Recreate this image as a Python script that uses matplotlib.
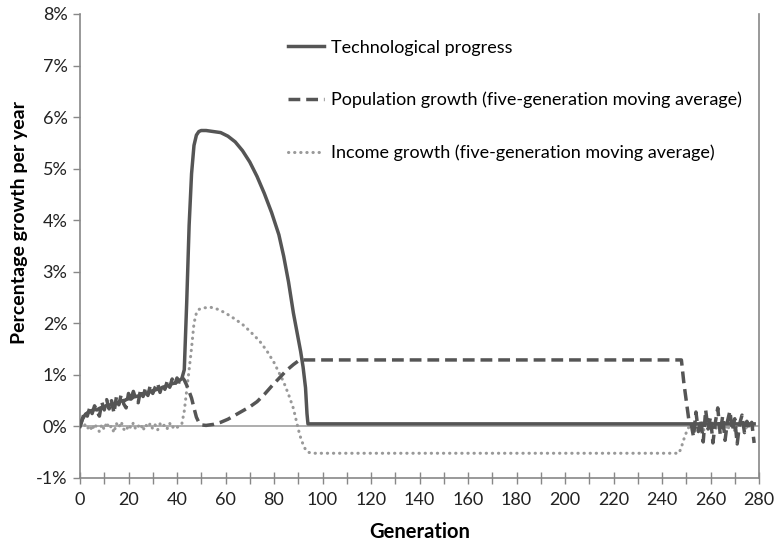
import numpy as np
import matplotlib.pyplot as plt
from matplotlib.ticker import MultipleLocator, FuncFormatter

plt.rcParams['font.family'] = ['Lato', 'DejaVu Sans']

# early phase, generations 0..42 (one value per generation)
early_gen = list(range(0, 43))
tech_early = [0.0, 0.14, 0.22, 0.26, 0.29, 0.31, 0.33, 0.32, 0.35, 0.37, 0.38, 0.41, 0.4, 0.44, 0.43, 0.47, 0.46,
              0.5, 0.49, 0.52, 0.54, 0.53, 0.57, 0.58, 0.59, 0.62, 0.61, 0.64, 0.66, 0.67, 0.68, 0.71, 0.72,
              0.73, 0.76, 0.76, 0.79, 0.8, 0.83, 0.84, 0.86, 0.89, 0.93]
pop_early = [0.0, 0.15, 0.3, 0.2, 0.36, 0.25, 0.4, 0.3, 0.2, 0.47, 0.32, 0.52, 0.34, 0.5, 0.26, 0.57, 0.42,
             0.62, 0.44, 0.36, 0.64, 0.5, 0.68, 0.53, 0.46, 0.72, 0.58, 0.74, 0.6, 0.8, 0.64, 0.76, 0.84,
             0.66, 0.82, 0.72, 0.88, 0.76, 0.92, 0.8, 0.94, 0.86, 0.96]
inc_early = [0.0, -0.02, 0.03, -0.05, 0.02, -0.08, 0.05, -0.03, -0.1, 0.04, -0.06, 0.08, -0.04, 0.01, -0.12,
             0.06, -0.02, 0.09, -0.05, -0.09, 0.03, -0.03, 0.07, -0.06, 0.0, 0.05, -0.08, 0.04, -0.02, 0.06,
             -0.05, 0.03, -0.07, 0.05, -0.01, 0.04, -0.04, 0.06, -0.03, 0.02, -0.02, 0.01, 0.05]

# take-off and modern phase
tech_gen = [43, 44, 45, 46, 47, 48, 49, 50, 52, 55, 58, 61, 64, 67, 70, 73, 76, 79, 82, 84, 86, 88, 90,
            91, 92, 93, 93.6, 94, 278]
tech_val = [1.1, 2.4, 3.9, 4.9, 5.45, 5.65, 5.72, 5.74, 5.74, 5.72, 5.7, 5.63, 5.52, 5.35, 5.13, 4.85, 4.52,
            4.15, 3.72, 3.3, 2.8, 2.2, 1.7, 1.45, 1.15, 0.75, 0.25, 0.05, 0.05]

pop_gen = [43, 44, 45, 46, 47, 48, 49, 50, 52, 55, 58, 61, 64, 67, 70, 73, 76, 79, 82, 85, 88, 90, 92,
           248, 249, 250, 251]
pop_val = [0.9, 0.8, 0.68, 0.55, 0.36, 0.18, 0.08, 0.03, 0.02, 0.04, 0.08, 0.14, 0.22, 0.3, 0.38, 0.48, 0.62,
           0.78, 0.93, 1.08, 1.2, 1.27, 1.29, 1.29, 0.85, 0.5, 0.15]

inc_gen = [43, 44, 45, 46, 47, 48, 49, 51, 54, 57, 60, 64, 67, 70, 74, 77, 80, 82, 84, 86, 88, 89, 90,
           91, 92, 93, 94, 96, 247, 248, 249, 250, 251]
inc_val = [0.3, 0.7, 1.1, 1.52, 2.0, 2.2, 2.27, 2.3, 2.31, 2.27, 2.2, 2.08, 1.98, 1.85, 1.66, 1.47, 1.24,
           1.05, 0.86, 0.62, 0.35, 0.15, -0.05, -0.22, -0.35, -0.45, -0.5, -0.52, -0.52, -0.4, -0.25,
           -0.12, -0.02]

# late phase, generations 252..278
late_gen = list(range(252, 279))
pop_late = [0.05, -0.2, 0.28, -0.1, 0.12, -0.3, 0.32, -0.05, 0.18, -0.32, 0.08, 0.36, -0.15, 0.2, -0.27,
            0.1, 0.3, -0.08, 0.15, -0.34, 0.05, 0.22, -0.12, 0.1, -0.05, 0.08, -0.32]
inc_late = [0.02, -0.06, 0.08, -0.03, 0.05, -0.1, 0.04, 0.1, -0.05, 0.02, -0.08, 0.06, 0.0, -0.04, 0.09,
            -0.07, 0.03, 0.05, -0.09, 0.02, 0.07, -0.03, 0.04, -0.06, 0.01, 0.05, -0.02]

tech_x = early_gen + tech_gen
tech_y = tech_early + tech_val
pop_x = early_gen + pop_gen + late_gen
pop_y = pop_early + pop_val + pop_late
inc_x = early_gen + inc_gen + late_gen
inc_y = inc_early + inc_val + inc_late

fig = plt.figure(figsize=(7.77, 5.47), dpi=100)
ax = fig.add_axes([80 / 777, 69 / 547, 679 / 777, 464 / 547])

ax.axhline(0, color='#a0a0a0', lw=1.2, zorder=1)
ax.plot(tech_x, np.array(tech_y) / 100, color='#555555', lw=2.5, label='Technological progress', zorder=3)
ax.plot(pop_x, np.array(pop_y) / 100, color='#555555', lw=2.5, dashes=(3.4, 1.7),
        label='Population growth (five-generation moving average)', zorder=4)
ax.plot(inc_x, np.array(inc_y) / 100, color='#999999', lw=2.2, linestyle=(0, (0.1, 1.9)),
        dash_capstyle='round', solid_capstyle='round',
        label='Income growth (five-generation moving average)', zorder=2)

ax.set_xlim(0, 280)
ax.set_ylim(-0.01, 0.08)
ax.xaxis.set_major_locator(MultipleLocator(10))
ax.xaxis.set_major_formatter(FuncFormatter(lambda v, p: f'{int(v)}' if int(v) % 20 == 0 else ''))
ax.yaxis.set_major_locator(MultipleLocator(0.01))
ax.yaxis.set_major_formatter(FuncFormatter(lambda v, p: f'{v * 100:.0f}%'))

for s in ['left', 'bottom', 'right']:
    ax.spines[s].set_color('#888888')
    ax.spines[s].set_linewidth(1.2)
ax.spines['top'].set_visible(False)
ax.tick_params(axis='x', direction='inout', length=8, width=1, color='#888888', labelsize=13,
               labelcolor='#222222', pad=6)
ax.tick_params(axis='y', direction='out', length=5, width=1, color='#888888', labelsize=13,
               labelcolor='#222222', pad=4)

ax.set_xlabel('Generation', fontsize=14.5, fontweight='bold', labelpad=10)
ax.set_ylabel('Percentage growth per year', fontsize=14, fontweight='bold')
ax.yaxis.set_label_coords(-0.077, 0.55)

ax.legend(loc='upper left', bbox_to_anchor=(0.306, 0.945), frameon=False, fontsize=13,
          handlelength=2.0, handletextpad=0.4, labelspacing=2.0, borderpad=0, borderaxespad=0)

fig.savefig('out.png', dpi=100, facecolor='white')
